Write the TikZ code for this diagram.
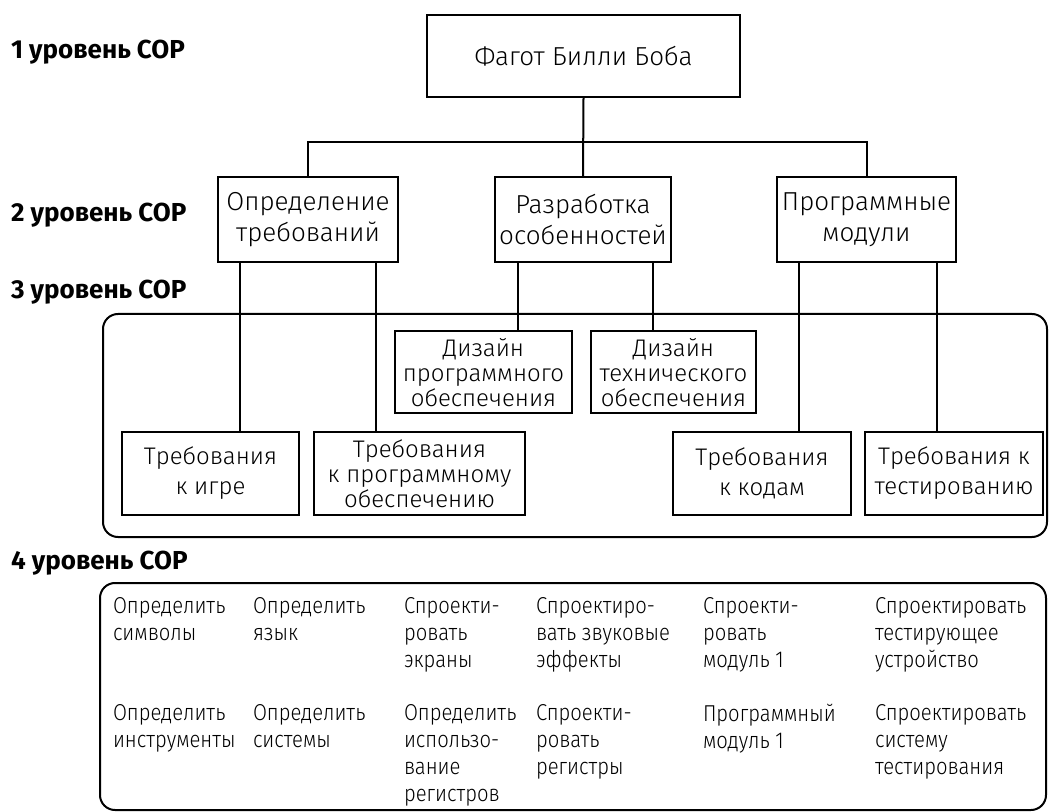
\documentclass[tikz,border=0pt]{standalone}
\usepackage{fontspec}
\setmainfont{Fira Sans}[UprightFont=* Light,BoldFont=* Bold]
\newfontfamily\taskfont{Fira Sans}[UprightFont=* Light,FakeStretch=0.88]
\usepackage{tikz}

\begin{document}
\begin{tikzpicture}[x=0.5pt,y=-0.5pt,line width=1pt,
	lvl/.style={anchor=west,inner sep=0pt,font=\fontsize{13}{14}\selectfont\bfseries},
	blk/.style={draw,inner sep=0pt,align=center,minimum height=41pt,font=\fontsize{12}{12.5}\selectfont},
	blkb/.style={blk,minimum height=42.5pt,font=\fontsize{13}{15.5}\selectfont},
	task/.style={anchor=north west,inner sep=0pt,align=left,font=\taskfont\fontsize{11.5}{13.5}\selectfont}]
			\pgfmathsetmacro{\rowa}{596}
			\pgfmathsetmacro{\rowb}{703}
			\useasboundingbox (0,0) rectangle (1049,812);
			\node[lvl] (lvla) at (10,52) {1 уровень СОР};
			\node[lvl] (lvlb) at (10,215) {2 уровень СОР};
			\node[lvl] (lvlc) at (10,292) {3 уровень СОР};
			\node[lvl] (lvld) at (10,563) {4 уровень СОР};
			\node[blkb,minimum width=156.5pt,minimum height=41pt] (bob) at (583.5,56) {Фагот Билли Боба};
			\node[blkb,minimum width=90pt] (req) at (308,219.5) {Определение\\требований};
			\node[blkb,minimum width=88pt] (dev) at (583,219.5) {Разработка\\особенностей};
			\node[blkb,minimum width=89.5pt] (mod) at (866.5,219.5) {Программные\\модули};
			\draw (bob.south) -- (dev.north);
			\draw (req.north) -- ++(0,-34) -| (mod.north);
			\draw[rounded corners=7.5pt] (103,314) rectangle (1047,537);
			\node[blk,minimum width=88.5pt] (swdes) at (483.5,372.5) {Дизайн\\программного\\обеспечения};
			\node[blk,minimum width=82.5pt] (hwdes) at (673.5,372.5) {Дизайн\\технического\\обеспечения};
			\node[blk,minimum width=88.5pt,minimum height=41.5pt,font=\fontsize{12}{15}\selectfont] (game) at (210.5,473.5) {Требования\\к игре};
			\node[blk,minimum width=105.5pt,minimum height=41.5pt] (swreq) at (419.5,473.5) {Требования\\к программному\\обеспечению};
			\node[blk,minimum width=89pt,minimum height=41.5pt,font=\fontsize{12}{15}\selectfont] (code) at (762,473.5) {Требования\\к кодам};
			\node[blk,minimum width=89pt,minimum height=41.5pt,font=\fontsize{12}{15}\selectfont] (test) at (954,473.5) {Требования к\\тестированию};
			\draw ([xshift=-34pt]req.south) -- ([xshift=-34pt]req.south |- game.north);
			\draw ([xshift=34pt]req.south) -- ([xshift=34pt]req.south |- swreq.north);
			\draw ([xshift=-32.5pt]dev.south) -- ([xshift=-32.5pt]dev.south |- swdes.north);
			\draw ([xshift=35pt]dev.south) -- ([xshift=35pt]dev.south |- hwdes.north);
			\draw ([xshift=-34pt]mod.south) -- ([xshift=-34pt]mod.south |- code.north);
			\draw ([xshift=35pt]mod.south) -- ([xshift=35pt]mod.south |- test.north);
			\draw[rounded corners=7.5pt] (100,583) rectangle (1046,810);
			\node[task] (taa) at (112,\rowa) {Определить\\символы};
			\node[task] (tab) at (252,\rowa) {Определить\\язык};
			\node[task] (tac) at (403,\rowa) {Спроекти-\\ровать\\экраны};
			\node[task] (tad) at (535,\rowa) {Спроектиро-\\вать звуковые\\эффекты};
			\node[task] (tae) at (702,\rowa) {Спроекти-\\ровать\\модуль 1};
			\node[task] (taf) at (874,\rowa) {Спроектировать\\тестирующее\\устройство};
			\node[task] (tba) at (112,\rowb) {Определить\\инструменты};
			\node[task] (tbb) at (252,\rowb) {Определить\\системы};
			\node[task] (tbc) at (403,\rowb) {Определить\\использо-\\вание\\регистров};
			\node[task] (tbd) at (535,\rowb) {Спроекти-\\ровать\\регистры};
			\node[task] (tbe) at (702,\rowb) {Программный\\модуль 1};
			\node[task] (tbf) at (874,\rowb) {Спроектировать\\систему\\тестирования};
		\end{tikzpicture}
\end{document}
